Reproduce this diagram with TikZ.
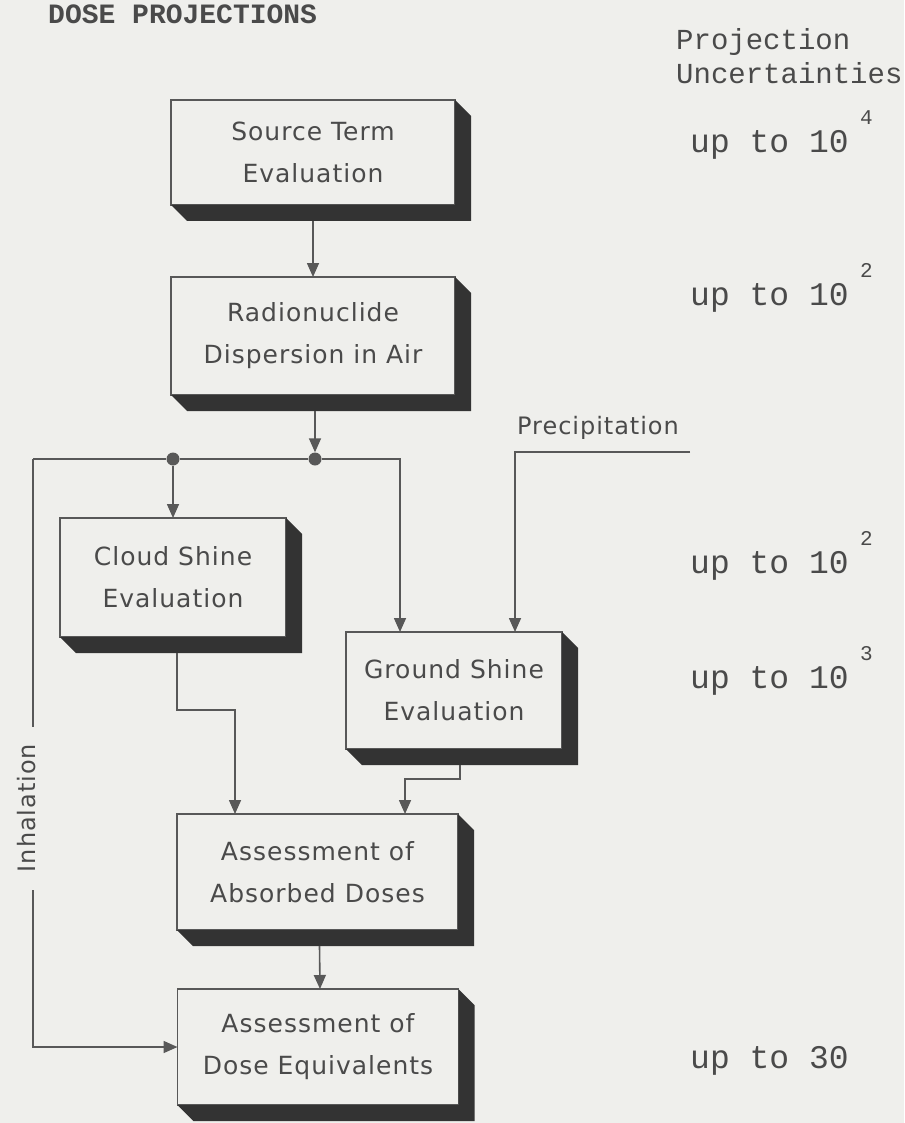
\documentclass[tikz,border=0pt]{standalone}
\usepackage{fontspec}
\usetikzlibrary{arrows.meta,calc}
\newfontfamily\boxfont[LetterSpace=4]{DejaVu Sans}
\newfontfamily\typefont{Liberation Mono}
\definecolor{paper}{HTML}{EFEFEC}
\definecolor{ink}{HTML}{4A4A4A}
\definecolor{wirec}{HTML}{585858}
\definecolor{shadowc}{HTML}{333333}
% dark bevelled band along the right and bottom of a box
\newcommand\dropshadow[1]{%
  \fill[shadowc] (#1.north east) -- ++(16,16) -- ($(#1.south east)+(16,16)$)
    -- ($(#1.south west)+(16,16)$) -- (#1.south west) -- (#1.south east) -- cycle;}
\begin{document}
\begin{tikzpicture}[x=1pt,y=-1pt,
  flowbox/.style={draw=wirec, line width=1.6pt, fill=paper, inner sep=0pt, outer sep=0pt,
    align=center, text=ink, font=\boxfont\fontsize{25}{42}\selectfont},
  wire/.style={draw=wirec, line width=1.6pt},
  arr/.style={wire, -{Triangle[width=12pt,length=14pt]}},
  junction/.style={circle, fill=wirec, inner sep=0pt, minimum size=13pt},
  label/.style={text=ink, font=\boxfont\fontsize{24}{24}\selectfont},
  unc/.style={anchor=base west, text=ink, inner sep=0pt, font=\typefont\fontsize{33}{33}\selectfont},
  expo/.style={anchor=base west, text=ink, inner sep=0pt, font=\typefont\fontsize{21}{21}\selectfont}]
\clip (0,0) rectangle (904,1123);
\fill[paper] (0,0) rectangle (904,1123);

% heading
\node[anchor=base west, inner sep=0pt, text=ink, font=\typefont\bfseries\fontsize{28}{28}\selectfont] (title) at (48,24) {DOSE PROJECTIONS};
\node[anchor=base west, inner sep=0pt, text=ink, font=\typefont\fontsize{29}{29}\selectfont] (hd1) at (676,50) {Projection};
\node[anchor=base west, inner sep=0pt, text=ink, font=\typefont\fontsize{29}{29}\selectfont] (hd2) at (676,84) {Uncertainties};

% process boxes
\node[flowbox, minimum width=284pt, minimum height=105pt] (A) at (313,152.5) {Source Term\\Evaluation};
\node[flowbox, minimum width=284pt, minimum height=118pt] (B) at (313,336) {Radionuclide\\Dispersion in Air};
\node[flowbox, minimum width=226pt, minimum height=119pt] (C) at (173,577.5) {Cloud Shine\\Evaluation};
\node[flowbox, minimum width=216pt, minimum height=117pt] (D) at (454,690.5) {Ground Shine\\Evaluation};
\node[flowbox, minimum width=281pt, minimum height=116pt] (E) at (317.5,872) {Assessment of\\Absorbed Doses};
\node[flowbox, minimum width=281pt, minimum height=116pt] (F) at (318,1047) {Assessment of\\Dose Equivalents};
\foreach \b in {A,B,C,D,E,F} {\dropshadow{\b}}

% junctions on the distribution line
\node[junction] (dot1) at (173,459) {};
\node[junction] (dot2) at (315,459) {};
\coordinate (busleft) at (33,459);

% side labels
\node[label] (prec) at (598,428) {Precipitation};
\coordinate (precend) at (690,452);
\node[label, rotate=90] (inh) at (27,808) {Inhalation};
\coordinate (inhtop) at (33,727);
\coordinate (inhbot) at (33,890);

% main chain
\draw[arr] ($(A.south)+(0,16)$) -- (B.north);
\draw[arr] ($(B.south)+(2,16)$) -- (dot2.north);
\draw[wire] (busleft) -- (dot1) -- (dot2);
\draw[arr] (dot2) -| (D.north -| 400,0);
\draw[arr] (dot1) -- (C.north -| dot1);
\draw[arr] (precend) -| (D.north -| 515,0);

% into the dose assessments
\draw[arr] ($(C.south)+(4,16)$) -- ++(0,57) -| (E.north -| 235,0);
\draw[arr] (D.south -| 460,0) ++(0,16) -- ++(0,14) -| (E.north -| 405,0);
\draw[arr] ($(E.south)+(2,16)$) -- (F.north -| 320,0);

% inhalation path
\draw[wire] (busleft) -- (inhtop);
\draw[arr] (inhbot) |- (F.west);

% uncertainty column
\node[unc] (u1) at (690,153) {up to 10};
\node[expo] (e1) at (860,125) {4};
\node[unc] (u2) at (690,305) {up to 10};
\node[expo] (e2) at (860,277) {2};
\node[unc] (u3) at (690,573) {up to 10};
\node[expo] (e3) at (860,545) {2};
\node[unc] (u4) at (690,688) {up to 10};
\node[expo] (e4) at (860,660) {3};
\node[unc] (u5) at (690,1068) {up to 30};
\end{tikzpicture}
\end{document}
